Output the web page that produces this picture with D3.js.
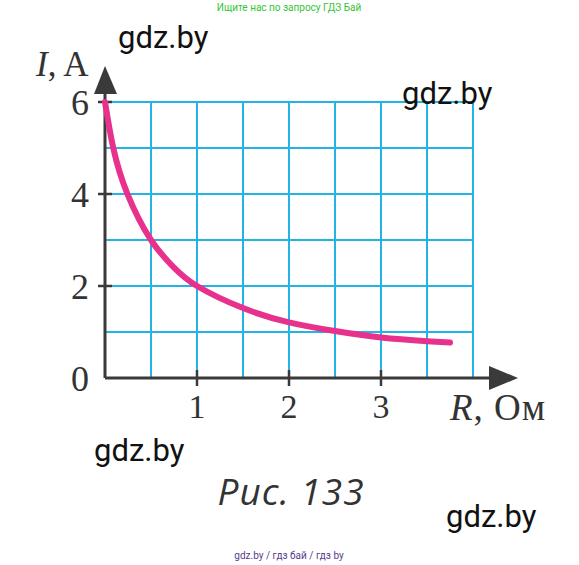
<!DOCTYPE html>
<html><head><meta charset="utf-8">
<script src="https://cdn.jsdelivr.net/npm/d3@7"></script>
<style>html,body{margin:0;padding:0;background:#fff;}svg{display:block;}</style>
</head><body>
<script>
// Data: current I (A) vs resistance R (Ohm)
const resistance = [0, 0.09, 0.24, 0.5, 0.75, 1, 1.5, 2, 2.5, 3, 3.5, 3.75];
const current    = [6, 5, 4.02, 3, 2.4, 2, 1.52, 1.21, 1.02, 0.88, 0.8, 0.77];
const xTicks = [1, 2, 3];
const yTicks = [2, 4, 6];
const xGrid = [0.5, 1, 1.5, 2, 2.5, 3, 3.5, 4];
const yGrid = [1, 2, 3, 4, 5, 6];

const W = 579, H = 565;
const svg = d3.select("body").append("svg").attr("width", W).attr("height", H);

const x = d3.scaleLinear().domain([0, 4]).range([105, 473]);
const y = d3.scaleLinear().domain([0, 6]).range([378, 102]);

const gridColor = "#22b4e6";
const axisColor = "#3a3a3a";
const serif = "'Liberation Serif','Times New Roman',serif";

// grid
svg.append("g").selectAll("line").data(xGrid).join("line")
  .attr("x1", d => x(d)).attr("x2", d => x(d))
  .attr("y1", y(0)).attr("y2", y(6))
  .attr("stroke", gridColor).attr("stroke-width", 2);
svg.append("g").selectAll("line").data(yGrid).join("line")
  .attr("x1", x(0)).attr("x2", x(4))
  .attr("y1", d => y(d)).attr("y2", d => y(d))
  .attr("stroke", gridColor).attr("stroke-width", 2);

// axes
svg.append("line").attr("x1", x(0)).attr("x2", 495).attr("y1", y(0)).attr("y2", y(0))
  .attr("stroke", axisColor).attr("stroke-width", 3);
svg.append("line").attr("x1", x(0)).attr("x2", x(0)).attr("y1", y(0)).attr("y2", 88)
  .attr("stroke", axisColor).attr("stroke-width", 3);
// arrows
svg.append("path").attr("d", `M518,${y(0)} L489,366 L489,390 Z`).attr("fill", axisColor);
svg.append("path").attr("d", `M${x(0)},66 L94,94 L117,94 Z`).attr("fill", axisColor);

// ticks
svg.append("g").selectAll("line").data(xTicks).join("line")
  .attr("x1", d => x(d)).attr("x2", d => x(d)).attr("y1", y(0) - 8).attr("y2", y(0) + 8)
  .attr("stroke", axisColor).attr("stroke-width", 2.5);
svg.append("g").selectAll("line").data(yTicks).join("line")
  .attr("x1", x(0) - 7).attr("x2", x(0) + 7).attr("y1", d => y(d)).attr("y2", d => y(d))
  .attr("stroke", axisColor).attr("stroke-width", 2.5);

// tick labels
svg.append("g").selectAll("text").data(xTicks).join("text")
  .attr("x", d => x(d)).attr("y", 418).attr("text-anchor", "middle")
  .attr("font-family", serif).attr("font-size", 34).attr("fill", "#333")
  .text(d => d);
svg.append("g").selectAll("text").data(yTicks).join("text")
  .attr("x", 89).attr("y", d => y(d) + 13).attr("text-anchor", "end")
  .attr("font-family", serif).attr("font-size", 36).attr("fill", "#333")
  .text(d => d);
svg.append("text").attr("x", 89).attr("y", 391).attr("text-anchor", "end")
  .attr("font-family", serif).attr("font-size", 36).attr("fill", "#333").text("0");

// axis titles
const yt = svg.append("text").attr("x", 36).attr("y", 76)
  .attr("font-family", serif).attr("font-size", 35).attr("fill", "#333");
yt.append("tspan").attr("font-style", "italic").text("I");
yt.append("tspan").text(", A");
const xt = svg.append("text").attr("x", 450).attr("y", 420)
  .attr("font-family", serif).attr("font-size", 37).attr("fill", "#333")
  .attr("letter-spacing", 1);
xt.append("tspan").attr("font-style", "italic").text("R");
xt.append("tspan").text(", Ом");

// curve
const line = d3.line().x((d, i) => x(resistance[i])).y(d => y(d)).curve(d3.curveNatural);
svg.append("path").datum(current).attr("d", line)
  .attr("fill", "none").attr("stroke", "#e8318c").attr("stroke-width", 6)
  .attr("stroke-linecap", "round");

// caption
svg.append("text").attr("x", 291).attr("y", 505).attr("text-anchor", "middle")
  .attr("font-family", "'Open Sans',sans-serif").attr("font-style", "italic")
  .attr("font-size", 37).attr("fill", "#333").attr("letter-spacing", 1)
  .text("Рис. 133");

// watermarks
const wm = [[118, 48], [402, 104], [94, 461], [446, 527]];
svg.append("g").selectAll("text").data(wm).join("text")
  .attr("x", d => d[0]).attr("y", d => d[1])
  .attr("font-family", "Roboto,sans-serif").attr("font-size", 31).attr("fill", "#111")
  .text("gdz.by");
svg.append("text").attr("x", 289).attr("y", 11).attr("text-anchor", "middle")
  .attr("font-family", "Roboto,sans-serif").attr("font-size", 10).attr("fill", "#35c435")
  .text("Ищите нас по запросу ГДЗ Бай");
svg.append("text").attr("x", 289).attr("y", 559).attr("text-anchor", "middle")
  .attr("font-family", "Roboto,sans-serif").attr("font-size", 10).attr("fill", "#5b3b8c")
  .text("gdz.by  /  гдз бай  /  гдз by");
</script>
</body></html>
